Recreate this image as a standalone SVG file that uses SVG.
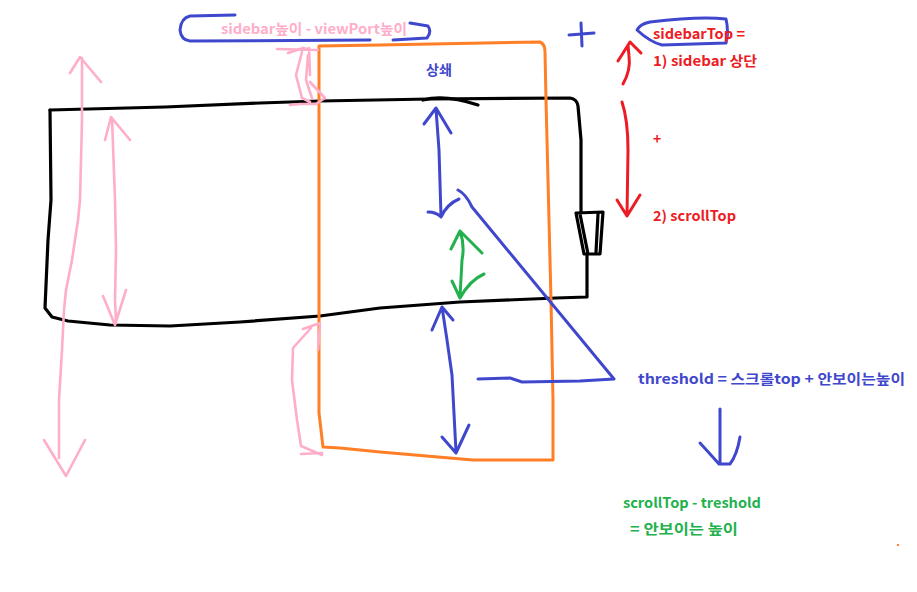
<svg xmlns="http://www.w3.org/2000/svg" width="917" height="592" viewBox="0 0 917 592">
<style>
path,line,polyline{fill:none;stroke-linecap:round;stroke-linejoin:round}
.k{stroke:#000;stroke-width:3.2}
.o{stroke:#ff7f27;stroke-width:3}
.b{stroke:#3f48cc;stroke-width:3}
.p{stroke:#ffaec9;stroke-width:2.6}
.r{stroke:#ed1c24;stroke-width:3}
.g{stroke:#22b14c;stroke-width:3}
text{font-family:"Noto Sans CJK KR","Noto Sans",sans-serif;font-weight:bold;font-size:14px}
</style>
<rect width="917" height="592" fill="#fff"/>
<g id="sidebar">
<path class="k" d="M50,110 L165,107 L260,103 L320,101 L430,99 L570,98 Q577,99 578,106 L581,140 L581,212"/>
<path class="k" d="M423,100 Q445,94 478,105"/>
<path class="k" d="M50,110 L51,200 L48,240 L45,308 L52,317 L68,321 L110,325 L170,326 L240,322 L320,316 L380,308 L460,302 L556,298 L587,297 L587,255"/>
<path class="k" d="M576,213 L603,212 L600,254 L584,254 Z M580,214 L588,254 M598,214 L596,252"/>
</g>
<g id="viewport">
<path class="o" d="M319,413 L319,46 L380,45 L540,42 Q545,44 545,52 L546,100 L548,180 L551,300 L553,400 L553,460 L473,460 L380,452 L340,448 L323,447 L321,430 L319,413"/>
<text x="439" y="75" fill="#3f48cc" font-weight="normal" text-anchor="middle">상쇄</text>
</g>
<g id="label-sidebar-viewport">
<path class="b" d="M235,15 L190,16 Q181,18 180,30 Q181,40 190,41 L370,40 M393,40 L427,38 Q432,32 428,26 L410,23"/>
<text x="314" y="34" fill="#ffaec9" text-anchor="middle" textLength="186" lengthAdjust="spacingAndGlyphs">sidebar높이 - viewPort높이</text>
</g>
<g id="sidebarTop">
<path class="b" d="M569,35 L594,33 M581,23 L582,46"/>
<path class="b" d="M650,22 Q700,16 726,19 Q729,32 726,43 L662,45 Q650,42 637,30 Q640,24 650,22"/>
<text x="653" y="39" fill="#ed1c24" textLength="92" lengthAdjust="spacingAndGlyphs">sidebarTop =</text>
<text x="653" y="66" fill="#ed1c24" textLength="104" lengthAdjust="spacingAndGlyphs">1) sidebar 상단</text>
<text x="653" y="144" fill="#ed1c24">+</text>
<text x="653" y="221" fill="#ed1c24" textLength="83" lengthAdjust="spacingAndGlyphs">2) scrollTop</text>
<path class="r" d="M623,84 Q631,70 629,56 L628,45 M618,61 L630,42 L641,53"/>
<path class="r" d="M622,102 Q628,120 628,150 L627,216 M617,200 L627,216 L640,195"/>
</g>
<g id="threshold">
<path class="b" d="M458,190 Q466,194 472,207 L614,379 L580,381 L522,382 L510,378 L478,379"/>
<text x="638" y="384" fill="#3f48cc" textLength="267" lengthAdjust="spacingAndGlyphs">threshold = 스크롤top + 안보이는높이</text>
<path class="b" d="M720,409 L720,463 M700,443 Q712,456 719,464 L730,464 Q737,455 740,437"/>
</g>
<g id="result">
<text x="623" y="508" fill="#22b14c" textLength="138" lengthAdjust="spacingAndGlyphs">scrollTop - treshold</text>
<text x="630" y="534" fill="#22b14c" textLength="108" lengthAdjust="spacingAndGlyphs">= 안보이는 높이</text>
<rect x="897" y="544" width="2" height="2" fill="#ff7f27"/>
</g>
<g id="connectors">
<path class="b" d="M436,109 L439,150 L441,216 M424,124 L436,108 L451,133 M428,212 Q436,212 441,217 Q447,204 459,199"/>
<path class="g" d="M460,231 Q465,245 462,260 L460,297 M451,249 L460,231 L482,253 M452,281 L460,298 M460,298 Q470,280 484,274"/>
<path class="b" d="M442,307 L447,340 L452,375 L456,452 M432,330 L442,307 L453,320 M442,437 L456,453 L469,425"/>
<path class="p" d="M82,58 L82,120 L80,200 L78,220 L72,260 L66,290 L64,310 L62,350 L59,400 L59,458 M70,73 L80,57 L101,82 M44,440 L66,476 L85,440"/>
<path class="p" d="M112,118 L115,200 L116,250 L115,300 L116,322 M105,140 L111,117 L130,140 M103,296 L115,325 L126,290"/>
<path class="p" d="M277,49 L318,50 M288,53 L303,48 L311,50 M302,52 L296,75 L302,98 L310,102 M308,55 L306,80 L312,98 M310,82 L325,98 L316,104 L300,104 L290,105 M309,48 L310,75"/>
<path class="p" d="M320,323 L303,329 M311,328 L293,348 L292,380 L297,420 L301,446 L322,455 M301,454 L322,453 M318,350 L320,325"/>
</g>
</svg>
